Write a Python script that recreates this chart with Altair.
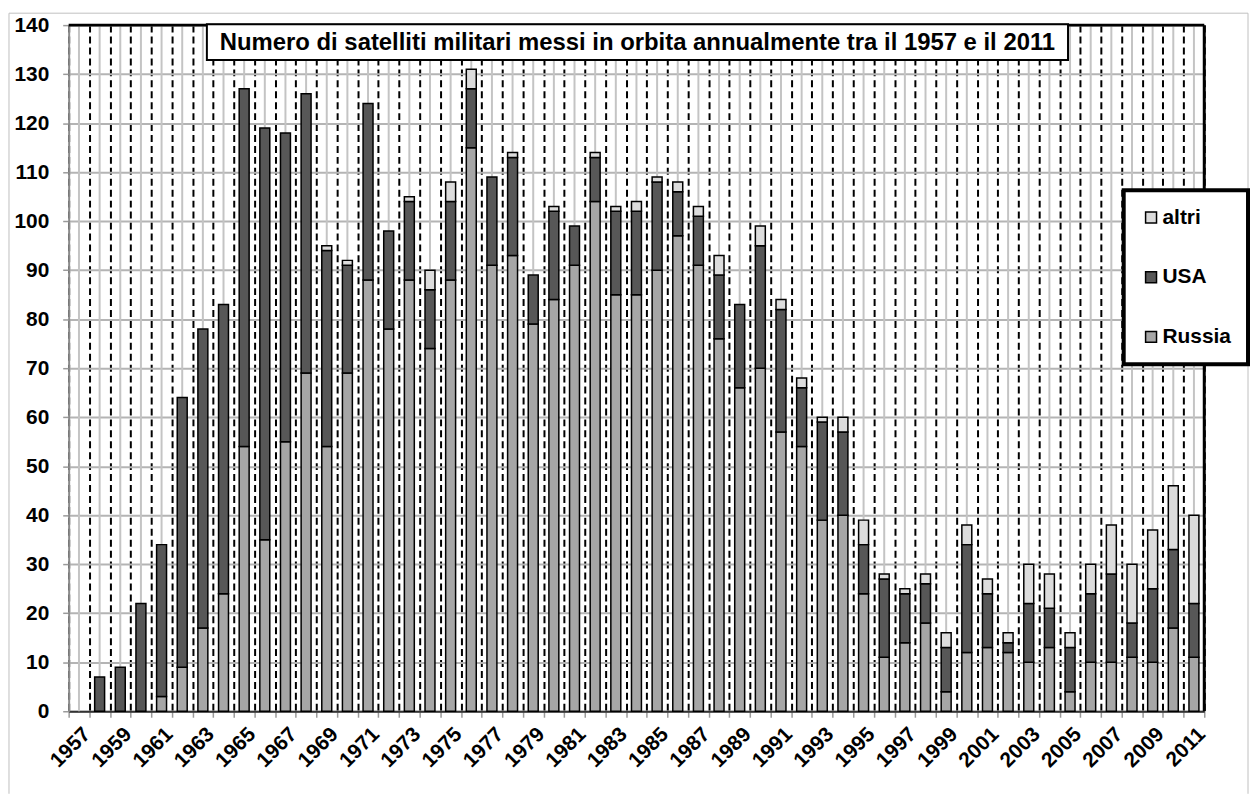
import altair as alt
import pandas as pd

years = list(range(1957, 2012))
russia = [0, 0, 0, 0, 3, 9, 17, 24, 54, 35, 55, 69, 54, 69, 88, 78, 88, 74, 88, 115,
          91, 93, 79, 84, 91, 104, 85, 85, 90, 97, 91, 76, 66, 70, 57, 54, 39, 40, 24, 11,
          14, 18, 4, 12, 13, 12, 10, 13, 4, 10, 10, 11, 10, 17, 11]
usa = [0, 7, 9, 22, 31, 55, 61, 59, 73, 84, 63, 57, 40, 22, 36, 20, 16, 12, 16, 12,
       18, 20, 10, 18, 8, 9, 17, 17, 18, 9, 10, 13, 17, 25, 25, 12, 20, 17, 10, 16,
       10, 8, 9, 22, 11, 2, 12, 8, 9, 14, 18, 7, 15, 16, 11]
altri = [0, 0, 0, 0, 0, 0, 0, 0, 0, 0, 0, 0, 1, 1, 0, 0, 1, 4, 4, 4,
         0, 1, 0, 1, 0, 1, 1, 2, 1, 2, 2, 4, 0, 4, 2, 2, 1, 3, 5, 1,
         1, 2, 3, 4, 3, 2, 8, 7, 3, 6, 10, 12, 12, 13, 18]
series = ["altri", "USA", "Russia"]
series_colors = ["#dcdcdc", "#575757", "#a6a6a6"]
stack_rank = {"Russia": 0, "USA": 1, "altri": 2}
title_text = "Numero di satelliti militari messi in orbita annualmente tra il 1957 e il 2011"

rows = []
for i, y in enumerate(years):
    for name, vals in (("Russia", russia), ("USA", usa), ("altri", altri)):
        rows.append({"year": y, "country": name, "value": vals[i], "ord": stack_rank[name]})
df = pd.DataFrame(rows)
years_df = pd.DataFrame({"year": years})
one = pd.DataFrame({"t": [title_text]})

W, H = 1142, 690
FONT = "Liberation Sans"

x_axis = alt.Axis(
    title=None, labelAngle=-45, labelFontSize=21, labelFontWeight="bold", labelColor="black",
    labelFont=FONT, labelOverlap=False, labelExpr="datum.value % 2 == 1 ? datum.label : ''",
    tickBand="extent", ticks=True, tickSize=6, tickColor="#9a9a9a", tickWidth=1.5,
    grid=True, gridColor="black", gridDash=[7, 4], gridWidth=2,
    domainColor="#333333", domainWidth=2, labelPadding=6,
)
x_scale = alt.Scale(paddingInner=0, paddingOuter=0)

center_lines = alt.Chart(years_df).mark_rule(color="#c4c4c4", strokeWidth=2).encode(
    x=alt.X("year:O", scale=x_scale, axis=x_axis),
    y=alt.value(0), y2=alt.value(H),
)

bars = alt.Chart(df).transform_filter("datum.value > 0").mark_bar(
    size=10, stroke="black", strokeWidth=1.5
).encode(
    x=alt.X("year:O", scale=x_scale, axis=x_axis),
    y=alt.Y("value:Q", stack="zero", scale=alt.Scale(domain=[0, 140]),
            axis=alt.Axis(title=None, values=list(range(0, 141, 10)), labelFontSize=21,
                          labelFontWeight="bold", labelColor="black", labelFont=FONT,
                          tickSize=6, tickColor="#9a9a9a", tickWidth=1.5, labelPadding=14,
                          grid=True, gridColor="#b4b4b4", gridWidth=2,
                          domainColor="#8a8a8a", domainWidth=2)),
    color=alt.Color("country:N", scale=alt.Scale(domain=series, range=series_colors),
                    legend=alt.Legend(title=None, orient="none", legendX=1061, legendY=166)),
    order=alt.Order("ord:Q", sort="ascending"),
)

top_border = alt.Chart(one).mark_rule(color="black", strokeWidth=3).encode(
    x=alt.value(0), x2=alt.value(W), y=alt.value(0))
right_border = alt.Chart(one).mark_rule(color="black", strokeWidth=3).encode(
    x=alt.value(W), y=alt.value(0), y2=alt.value(H))

frame_left = alt.Chart(one).mark_rule(color="#c0c0c0", strokeWidth=1).encode(
    x=alt.value(-60), y=alt.value(-12), y2=alt.value(773))
frame_top = alt.Chart(one).mark_rule(color="#c0c0c0", strokeWidth=1).encode(
    x=alt.value(-60), x2=alt.value(1186), y=alt.value(-12))
frame_right = alt.Chart(one).mark_rule(color="#c0c0c0", strokeWidth=1).encode(
    x=alt.value(1186), y=alt.value(-12), y2=alt.value(773))

title_box = alt.Chart(one).mark_rect(fill="white", stroke="black", strokeWidth=2).encode(
    x=alt.value(139), x2=alt.value(1005), y=alt.value(-1), y2=alt.value(35))
title_txt = alt.Chart(one).mark_text(
    font=FONT, fontSize=24, fontWeight="bold", color="black", align="center", baseline="middle"
).encode(text="t:N", x=alt.value(572), y=alt.value(18))

chart = alt.layer(
    center_lines, bars, top_border, right_border, title_box, title_txt,
    frame_left, frame_top, frame_right
).properties(
    width=W, height=H, padding={"left": 0, "top": 2, "right": 0, "bottom": 0},
    background="white"
).configure_view(strokeWidth=0).configure_legend(
    symbolType="square", symbolSize=121, symbolStrokeColor="black", symbolStrokeWidth=1.5,
    labelFontSize=21, labelFontWeight="bold", labelFont=FONT, labelColor="black",
    labelOffset=1, rowPadding=38, padding=17, strokeColor="black", strokeWidth=4,
    fillColor="white",
)

chart.save("out.html", embed_options={"renderer": "svg", "actions": False})
